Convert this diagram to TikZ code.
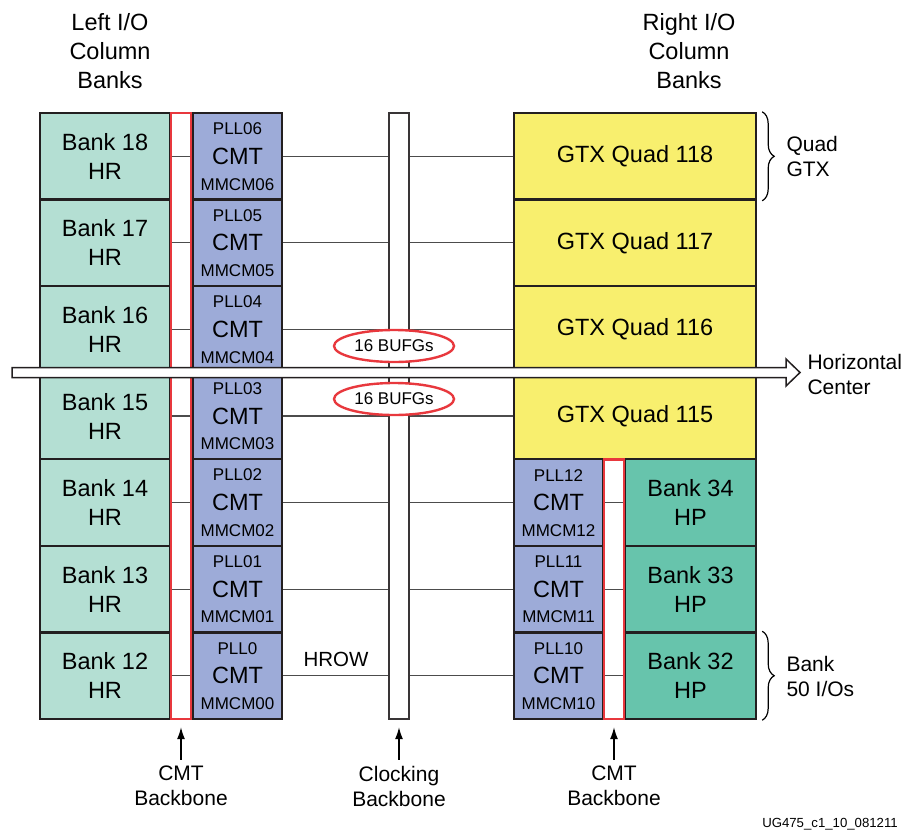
\documentclass[tikz,border=0pt]{standalone}
\usepackage{fontspec}
\setmainfont{Liberation Sans}
\usetikzlibrary{arrows.meta,shapes.geometric,decorations.pathreplacing}
\definecolor{hrcol}{HTML}{B4DFD3}
\definecolor{cmtcol}{HTML}{9DABD8}
\definecolor{gtxcol}{HTML}{F8EF6E}
\definecolor{hpcol}{HTML}{67C4AC}
\definecolor{bbred}{HTML}{E8383D}
\definecolor{edge}{HTML}{231F20}

\begin{document}
\begin{tikzpicture}[x=1pt,y=-1pt,
    bigtxt/.style={font=\fontsize{23.5}{29}\selectfont,align=center},
    sidetxt/.style={font=\fontsize{21}{25}\selectfont},
    smalltxt/.style={font=\fontsize{17}{20}\selectfont,inner sep=0pt},
    rowbox/.style={draw=edge,line width=2.4pt,minimum height=86.57pt,inner sep=0pt,bigtxt},
    hrbank/.style={rowbox,fill=hrcol,minimum width=130pt},
    hpbank/.style={rowbox,fill=hpcol,minimum width=131pt},
    cmtbox/.style={rowbox,fill=cmtcol,minimum width=89pt},
    gtxbox/.style={rowbox,fill=gtxcol,minimum width=242pt},
    cmtbb/.style={draw=bbred,line width=2.4pt,minimum width=20pt,inner sep=0pt},
    clkbb/.style={draw=edge!90,fill=white,line width=2.4pt,minimum width=20pt,minimum height=606pt,inner sep=0pt},
    hrow/.style={draw=black!70,line width=1.2pt},
    bufg/.style={ellipse,draw=bbred,fill=white,line width=2.4pt,minimum width=120pt,minimum height=32pt,inner sep=0pt,font=\fontsize{17}{20}\selectfont},
    ptr/.style={-{Latex[length=12pt,width=8pt]},line width=1.2pt},
    gbrace/.style={decorate,decoration={brace,amplitude=12pt},line width=1.2pt}]
  \useasboundingbox (0,0) rectangle (903,831);
  \node[bigtxt] (lhead) at (110,51.5) {Left I/O\\Column\\Banks};
  \node[bigtxt] (rhead) at (689,51.5) {Right I/O\\Column\\Banks};
  \node[clkbb] (clk) at (399,416) {};
  \foreach \b/\p/\m [count=\i from 0] in {18/06/06,17/05/05,16/04/04,15/03/03,14/02/02,13/01/01,12/0/00}{
    \pgfmathsetmacro\y{113+86.571*(\i+0.5)}
    \node[hrbank] (b\i) at (105,\y) {Bank \b\\HR};
    \node[cmtbox] (c\i) at (237.5,\y) {CMT};
    \node[smalltxt] (cp\i) at ([yshift=-17pt]c\i.north) {PLL\p};
    \node[smalltxt] (cm\i) at ([yshift=16.5pt]c\i.south) {MMCM\m};
  }
  \foreach \q [count=\i from 0] in {118,117,116,115}{
    \pgfmathsetmacro\y{113+86.571*(\i+0.5)}
    \node[gtxbox] (rt\i) at (635,\y) {GTX Quad \q};
  }
  \foreach \b/\p [count=\i from 4] in {34/12,33/11,32/10}{
    \pgfmathsetmacro\y{113+86.571*(\i+0.5)}
    \node[cmtbox] (rt\i) at (558.5,\y) {CMT};
    \node[smalltxt] (rp\i) at ([yshift=-17pt]rt\i.north) {PLL\p};
    \node[smalltxt] (rm\i) at ([yshift=16.5pt]rt\i.south) {MMCM\p};
    \node[hpbank] (hp\i) at (690.5,\y) {Bank \b\\HP};
    \draw[hrow] (rt\i.east) -- (hp\i.west);
  }
  \foreach \i in {0,...,6}{
    \draw[hrow] (b\i.east) -- (c\i.west);
    \draw[hrow] (c\i.east) -- (c\i.east -| clk.west);
    \draw[hrow] (c\i.east -| clk.east) -- (rt\i.west);
  }
  \node[cmtbb,minimum height=606pt] (lbb) at (181,416) {};
  \node[cmtbb,minimum height=259.7pt] (rbb) at (614,589.15) {};
  \node[sidetxt,font=\fontsize{20.5}{25}\selectfont] (hrowlbl) at (336,659) {HROW};
  \node[bufg] (bufgup) at (394,346) {16 BUFGs};
  \node[bufg] (bufgdn) at (394,399) {16 BUFGs};
  \draw[fill=white,draw=edge,line width=1.5pt] (12,367.5) -- (786,367.5) -- (786,359) -- (800,372.5) -- (786,386) -- (786,377.5) -- (12,377.5) -- cycle;
  \node[sidetxt,anchor=west,align=left] (hctr) at (804,374.5) {Horizontal\\Center};
  \draw[gbrace] ([xshift=5pt]rt0.north east) -- ([xshift=5pt]rt0.south east);
  \node[sidetxt,anchor=west,align=left] (quad) at (783,156) {Quad\\GTX};
  \draw[gbrace] ([xshift=5pt]hp6.north east) -- ([xshift=5pt]hp6.south east);
  \node[sidetxt,anchor=west,align=left] (iolbl) at (783,676) {Bank\\50 I/Os};
  \node[sidetxt,align=center,inner sep=1pt] (lbblbl) at (181,786) {CMT\\Backbone};
  \node[sidetxt,align=center,inner sep=1pt] (clklbl) at (399,786) {Clocking\\Backbone};
  \node[sidetxt,align=center,inner sep=1pt] (rbblbl) at (614,786) {CMT\\Backbone};
  \draw[ptr] ([yshift=5pt]lbblbl.north) -- ([yshift=-7pt]lbb.south);
  \draw[ptr] ([yshift=5pt]clklbl.north) -- ([yshift=-7pt]clk.south);
  \draw[ptr] ([yshift=5pt]rbblbl.north) -- ([yshift=-7pt]rbb.south);
  \node[anchor=base east,font=\fontsize{13.2}{15}\selectfont,inner sep=0pt] (figid) at (898,827.5) {UG475\_c1\_10\_081211};
\end{tikzpicture}
\end{document}
